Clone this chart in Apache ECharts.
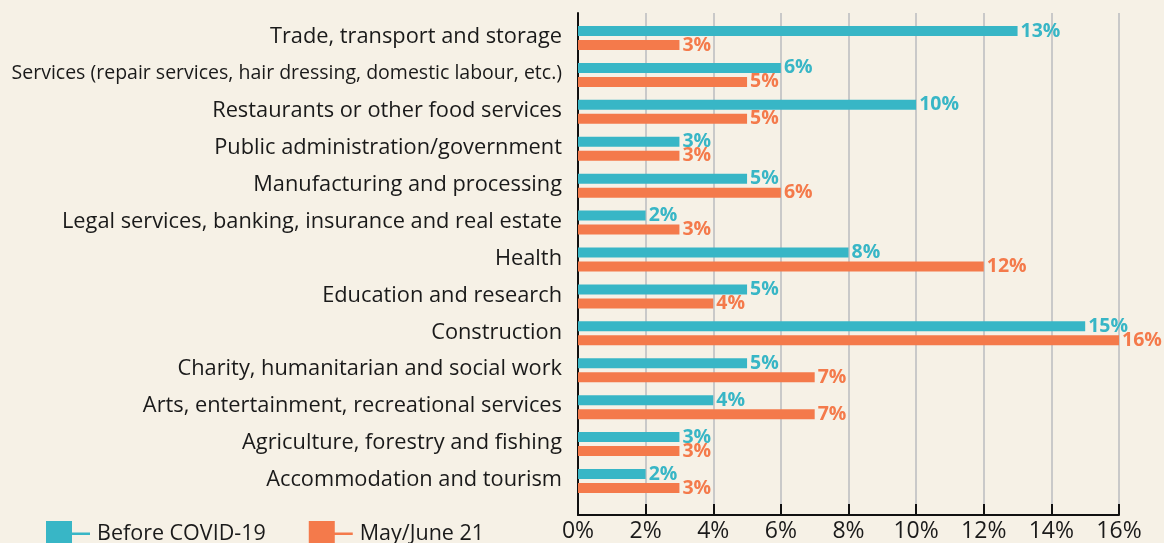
<!DOCTYPE html>
<html>
<head>
<meta charset="utf-8">
<script src="https://cdn.jsdelivr.net/npm/echarts@6/dist/echarts.min.js"></script>
<style>
html,body{margin:0;padding:0;background:#f6f1e6;}
#chart{width:1164px;height:543px;}
</style>
</head>
<body>
<div id="chart"></div>
<script>
const categories = [
  "Trade, transport and storage",
  "Services (repair services, hair dressing, domestic labour, etc.)",
  "Restaurants or other food services",
  "Public administration/government",
  "Manufacturing and processing",
  "Legal services, banking, insurance and real estate",
  "Health",
  "Education and research",
  "Construction",
  "Charity, humanitarian and social work",
  "Arts, entertainment, recreational services",
  "Agriculture, forestry and fishing",
  "Accommodation and tourism"
];
const seriesNames = ["Before COVID-19", "May/June 21"];
const beforeCovid = [13, 6, 10, 3, 5, 2, 8, 5, 15, 5, 4, 3, 2];
const mayJune21 = [3, 5, 5, 3, 6, 3, 12, 4, 16, 7, 7, 3, 3];
const xTicks = { min: 0, max: 16, interval: 2 };

const TEAL = '#38b6c6';
const ORANGE = '#f47a4b';
const FONT = "'Open Sans', 'Noto Sans', sans-serif";

const chart = echarts.init(document.getElementById('chart'), null, {renderer: 'canvas'});

function barSeries(name, data, color) {
  return {
    name: name,
    type: 'bar',
    xAxisIndex: 1,
    yAxisIndex: 1,
    data: data,
    barWidth: 10,
    barGap: '40%',
    itemStyle: { color: color },
    label: {
      show: true,
      position: 'right',
      distance: 3,
      formatter: '{c}%',
      color: color,
      fontWeight: 'bold',
      fontSize: 19.5,
      fontFamily: FONT
    },
    emphasis: { disabled: true }
  };
}

const legendIcon = 'path://M0,0H26V26H0Z M26,11.5H44V14H26Z';

chart.setOption({
  backgroundColor: '#f6f1e6',
  animation: false,
  textStyle: { fontFamily: FONT },
  legend: {
    left: 46,
    top: 521,
    padding: 0,
    itemWidth: 44,
    itemHeight: 26,
    itemGap: 43,
    data: [
      { name: seriesNames[0], icon: legendIcon },
      { name: seriesNames[1], icon: legendIcon }
    ],
    textStyle: { fontSize: 21.5, color: '#1a1a1a', fontFamily: FONT, padding: [0, 0, 0, 2] }
  },
  grid: [
    { left: 578, right: 45, top: 13, bottom: 28, containLabel: false },
    { left: 578, right: 45, top: 19.5, bottom: 43.5, containLabel: false }
  ],
  xAxis: [
    {
      gridIndex: 0,
      type: 'value',
      min: xTicks.min, max: xTicks.max, interval: xTicks.interval,
      axisLine: { show: true, lineStyle: { color: '#111', width: 2 } },
      axisTick: { show: true, inside: true, length: 11, lineStyle: { color: '#111', width: 2 } },
      axisLabel: { formatter: '{value}%', fontSize: 23, color: '#1a1a1a', margin: 5, fontFamily: FONT },
      splitLine: { show: true, lineStyle: { color: '#c9c9c9', width: 2 } }
    },
    {
      gridIndex: 1,
      type: 'value',
      min: xTicks.min, max: xTicks.max, interval: xTicks.interval,
      show: false
    }
  ],
  yAxis: [
    {
      gridIndex: 0,
      type: 'value',
      axisLine: { show: true, lineStyle: { color: '#111', width: 2 } },
      axisTick: { show: false },
      axisLabel: { show: false },
      splitLine: { show: false }
    },
    {
      gridIndex: 1,
      type: 'category',
      inverse: true,
      data: categories,
      axisLine: { show: false },
      axisTick: { show: false },
      axisLabel: {
        fontSize: 21.8,
        color: '#1a1a1a',
        margin: 16,
        padding: [0, 0, 2, 0],
        fontFamily: FONT,
        formatter: function (v) {
          return v.length > 55 ? '{narrow|' + v + '}' : v;
        },
        rich: {
          narrow: { fontSize: 19.5, color: '#1a1a1a', fontFamily: FONT }
        }
      }
    }
  ],
  series: [
    barSeries(seriesNames[0], beforeCovid, TEAL),
    barSeries(seriesNames[1], mayJune21, ORANGE)
  ]
});
</script>
</body>
</html>
